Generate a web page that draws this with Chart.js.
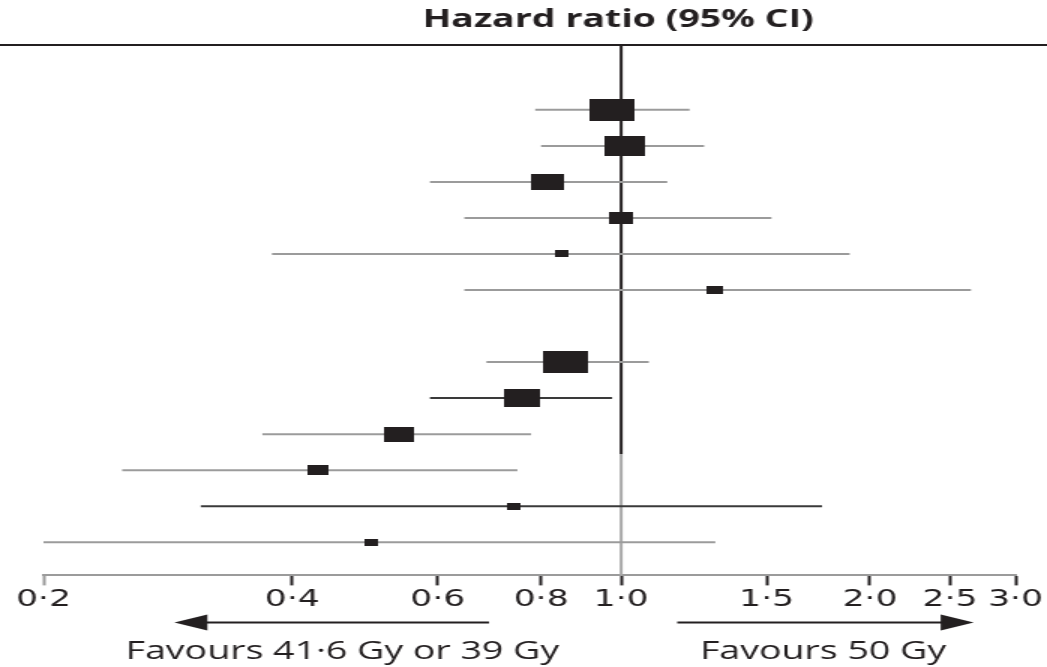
<!DOCTYPE html>
<html>
<head>
<meta charset="utf-8">
<script src="https://cdn.jsdelivr.net/npm/chart.js@4"></script>
<style>
  html, body { margin: 0; padding: 0; background: #fff; overflow: hidden; }
  /* the reference is stretched sideways, so draw narrow and widen it */
  #wrap { position: absolute; left: 0; top: 0; width: 698px; height: 667px; transform: scaleX(1.5); transform-origin: 0 0; }
</style>
</head>
<body>
<div id="wrap"><canvas id="c"></canvas></div>
<script>
// ---- data ----
const rowIndex    = [1, 2, 3, 4, 5, 6, 8, 9, 10, 11, 12, 13]; // row 7 is a blank spacer
const hazardRatio = [0.975, 1.01, 0.816, 1.0, 0.846, 1.30, 0.855, 0.759, 0.539, 0.430, 0.740, 0.498];
const ciLower     = [0.787, 0.80, 0.587, 0.646, 0.378, 0.646, 0.687, 0.587, 0.368, 0.249, 0.310, 0.20];
const ciUpper     = [1.21, 1.26, 1.137, 1.52, 1.89, 2.65, 1.08, 0.975, 0.778, 0.749, 1.75, 1.30];
const weights     = [22, 20, 16, 12, 7, 8, 22, 18, 15, 10, 7, 7]; // relative study weight
const xTicks      = [0.2, 0.4, 0.6, 0.8, 1.0, 1.5, 2.0, 2.5, 3.0];

const INK = '#231f20';
const GREY = '#9b9b9b';
const darkRows = [7, 10]; // indices whose CI line prints darker

function box(w) {
  const c = document.createElement('canvas');
  c.width = Math.round(w * 1.35); c.height = w;
  const g = c.getContext('2d');
  g.fillStyle = INK; g.fillRect(0, 0, c.width, c.height);
  return c;
}
const fmt = (v) => Number(v).toFixed(1).replace('.', '·');

const ciSets = hazardRatio.map((_, i) => ({
  data: [{ x: ciLower[i], y: rowIndex[i] }, { x: ciUpper[i], y: rowIndex[i] }],
  showLine: true, pointRadius: 0, borderWidth: 2,
  borderColor: darkRows.includes(i) ? '#3a3a3a' : GREY, order: 1
}));

const decor = {
  id: 'decor',
  beforeDatasetsDraw(chart) {
    const { ctx, chartArea: a, scales: { x, y } } = chart;
    const x1 = x.getPixelForValue(1);
    const split = y.getPixelForValue(10.55);
    ctx.save();
    ctx.lineWidth = 2;
    ctx.strokeStyle = INK;
    ctx.beginPath(); ctx.moveTo(x1, a.top); ctx.lineTo(x1, split); ctx.stroke();
    ctx.strokeStyle = '#a8a8a8';
    ctx.beginPath(); ctx.moveTo(x1, split); ctx.lineTo(x1, a.bottom); ctx.stroke();
    ctx.restore();
  },
  afterDraw(chart) {
    const { ctx, chartArea: a, scales: { x } } = chart;
    ctx.save();
    // header rule + title
    ctx.strokeStyle = INK; ctx.lineWidth = 2;
    ctx.beginPath(); ctx.moveTo(0, a.top); ctx.lineTo(chart.width, a.top); ctx.stroke();
    ctx.fillStyle = INK;
    ctx.font = 'bold 25px "Open Sans"';
    ctx.textAlign = 'center'; ctx.textBaseline = 'middle';
    ctx.fillText('Hazard ratio (95% CI)', x.getPixelForValue(1) - 2, a.top - 25);

    // arrows
    const ay = a.bottom + 47;
    function arrow(from, to) {
      const x0 = x.getPixelForValue(from), x2 = x.getPixelForValue(to);
      const dir = Math.sign(x2 - x0);
      ctx.lineWidth = 2;
      ctx.beginPath(); ctx.moveTo(x0, ay); ctx.lineTo(x2 - dir * 18, ay); ctx.stroke();
      ctx.beginPath();
      ctx.moveTo(x2, ay); ctx.lineTo(x2 - dir * 22, ay - 8); ctx.lineTo(x2 - dir * 22, ay + 8);
      ctx.closePath(); ctx.fill();
    }
    arrow(0.692, 0.288);
    arrow(1.169, 2.67);

    ctx.font = '25px "Open Sans"';
    ctx.fillText('Favours 41·6 Gy or 39 Gy', x.getPixelForValue(0.46), a.bottom + 76);
    ctx.fillText('Favours 50 Gy', x.getPixelForValue(1.755), a.bottom + 76);
    ctx.restore();
  }
};

new Chart(document.getElementById('c'), {
  type: 'scatter',
  data: {
    datasets: [{
      data: hazardRatio.map((v, i) => ({ x: v, y: rowIndex[i] })),
      pointStyle: weights.map(box),
      pointRadius: 10, order: 0
    }].concat(ciSets)
  },
  options: {
    responsive: true, maintainAspectRatio: false, animation: false,
    layout: { padding: { top: 45, left: 29, right: 21, bottom: 52 } },
    plugins: { legend: { display: false }, tooltip: { enabled: false } },
    scales: {
      x: {
        type: 'logarithmic', min: 0.2, max: 3.0,
        afterBuildTicks: (s) => { s.ticks = xTicks.map((v) => ({ value: v })); },
        ticks: {
          autoSkip: false, maxRotation: 0, padding: 1,
          color: INK, font: { family: 'DejaVu Sans', size: 23 },
          callback: (v) => fmt(v)
        },
        grid: {
          drawOnChartArea: false, tickLength: 10, tickWidth: 2,
          tickColor: (c) => (c.tick && c.tick.value === 0.2 ? GREY : INK)
        },
        border: { color: GREY, width: 2 }
      },
      y: { display: false, reverse: true, min: -0.8, max: 13.92 }
    }
  },
  plugins: [decor]
});
</script>
</body>
</html>
